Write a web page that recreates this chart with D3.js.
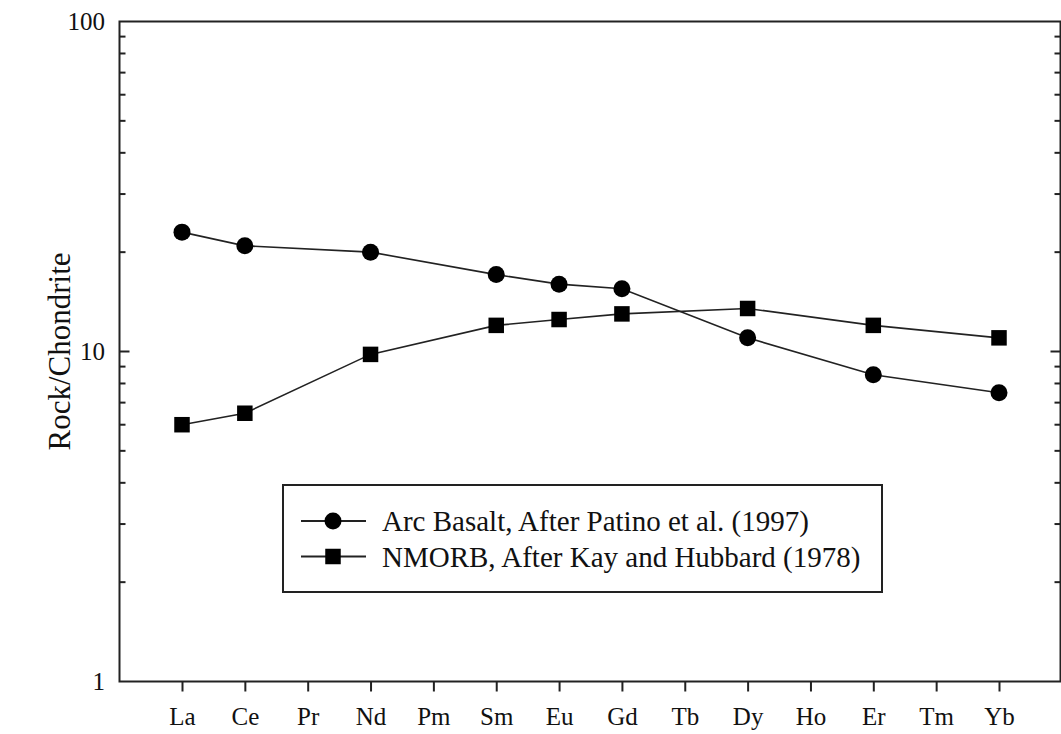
<!doctype html>
<html lang="en">
  <head>
    <meta charset="UTF-8" />
    <title>REE pattern</title>
    <script src="https://cdn.jsdelivr.net/npm/d3@7"></script>
    <style>
      html, body { margin: 0; padding: 0; background: #fff; }
      svg { display: block; font-family: "Liberation Serif", "Times New Roman", serif; }
    </style>
  </head>
  <body>
    <div id="chart"></div>
    <script>
      // element names on the x axis
      const elements = ["La", "Ce", "Pr", "Nd", "Pm", "Sm", "Eu", "Gd", "Tb", "Dy", "Ho", "Er", "Tm", "Yb"];

      // chondrite-normalised values
      const arcElements = ["La", "Ce", "Nd", "Sm", "Eu", "Gd", "Dy", "Er", "Yb"];
      const arcValues = [23.0, 20.9, 20.0, 17.1, 16.0, 15.5, 11.0, 8.5, 7.5];

      const morbElements = ["La", "Ce", "Nd", "Sm", "Eu", "Gd", "Dy", "Er", "Yb"];
      const morbValues = [6.0, 6.5, 9.8, 12.0, 12.5, 13.0, 13.5, 12.0, 11.0];

      const yTickLabels = [1, 10, 100];
      const legendLabels = ["Arc Basalt, After Patino et al. (1997)", "NMORB, After Kay and Hubbard (1978)"];

      const width = 1061;
      const height = 734;
      const marginLeft = 119.5;
      const marginRight = 1060.5;
      const marginTop = 21.5;
      const marginBottom = 681.5;

      const svg = d3.select("#chart").append("svg")
        .attr("width", width)
        .attr("height", height);

      // x scale: one slot per element
      const x = d3.scalePoint()
        .domain(elements)
        .range([182, 999]);

      // y scale: log, 1 .. 100
      const y = d3.scaleLog()
        .domain([1, 100])
        .range([marginBottom, marginTop]);

      // frame
      svg.append("rect")
        .attr("x", marginLeft)
        .attr("y", marginTop)
        .attr("width", marginRight - marginLeft)
        .attr("height", marginBottom - marginTop)
        .attr("fill", "none")
        .attr("stroke", "#222")
        .attr("stroke-width", 2);

      // minor + major ticks (inside, both sides)
      const allTicks = y.ticks();
      const tickG = svg.append("g").attr("stroke", "#222").attr("stroke-width", 2);
      allTicks.forEach(t => {
        const major = yTickLabels.includes(t);
        const len = major ? 10 : 6;
        if (t === 1 || t === 100) return;
        tickG.append("line")
          .attr("x1", marginLeft).attr("x2", marginLeft + len)
          .attr("y1", y(t)).attr("y2", y(t));
        tickG.append("line")
          .attr("x1", marginRight).attr("x2", marginRight - len)
          .attr("y1", y(t)).attr("y2", y(t));
      });

      // y tick labels
      svg.append("g")
        .selectAll("text")
        .data(yTickLabels)
        .join("text")
        .attr("x", 105)
        .attr("y", d => y(d))
        .attr("dy", "0.35em")
        .attr("text-anchor", "end")
        .attr("font-size", 25)
        .attr("fill", "#111")
        .text(d => d);

      // x axis ticks (outside) + labels
      const xAxis = d3.axisBottom(x).tickSize(10).tickPadding(16);
      const xg = svg.append("g")
        .attr("transform", `translate(0,${marginBottom})`)
        .call(xAxis);
      xg.select(".domain").remove();
      xg.selectAll(".tick line").attr("stroke", "#222").attr("stroke-width", 2);
      xg.selectAll(".tick text")
        .attr("font-size", 25)
        .attr("font-family", "Liberation Serif, serif")
        .attr("fill", "#111");

      // y label
      svg.append("text")
        .attr("transform", `translate(70,${(marginTop + marginBottom) / 2}) rotate(-90)`)
        .attr("text-anchor", "middle")
        .attr("font-size", 31)
        .attr("fill", "#111")
        .text("Rock/Chondrite");

      const line = d3.line()
        .x(d => x(d[0]))
        .y(d => y(d[1]));

      const arcData = arcElements.map((e, i) => [e, arcValues[i]]);
      const morbData = morbElements.map((e, i) => [e, morbValues[i]]);

      svg.append("path")
        .datum(arcData)
        .attr("d", line)
        .attr("fill", "none")
        .attr("stroke", "#222")
        .attr("stroke-width", 1.6);

      svg.append("path")
        .datum(morbData)
        .attr("d", line)
        .attr("fill", "none")
        .attr("stroke", "#222")
        .attr("stroke-width", 1.6);

      svg.append("g")
        .selectAll("circle")
        .data(arcData)
        .join("circle")
        .attr("cx", d => x(d[0]))
        .attr("cy", d => y(d[1]))
        .attr("r", 8.5)
        .attr("fill", "#000");

      const sq = 15.5;
      svg.append("g")
        .selectAll("rect")
        .data(morbData)
        .join("rect")
        .attr("x", d => x(d[0]) - sq / 2)
        .attr("y", d => y(d[1]) - sq / 2)
        .attr("width", sq)
        .attr("height", sq)
        .attr("fill", "#000");

      // legend
      const legend = svg.append("g").attr("id", "legend");
      legend.append("rect")
        .attr("x", 283)
        .attr("y", 485)
        .attr("width", 599)
        .attr("height", 107)
        .attr("fill", "#fff")
        .attr("stroke", "#222")
        .attr("stroke-width", 2);

      legendLabels.forEach((label, i) => {
        const ly = 521 + i * 35.5;
        legend.append("line")
          .attr("x1", 301).attr("x2", 366)
          .attr("y1", ly).attr("y2", ly)
          .attr("stroke", "#222").attr("stroke-width", 1.8);
        if (i === 0) {
          legend.append("circle").attr("cx", 333).attr("cy", ly).attr("r", 8.5).attr("fill", "#000");
        } else {
          legend.append("rect").attr("x", 333 - sq / 2).attr("y", ly - sq / 2)
            .attr("width", sq).attr("height", sq).attr("fill", "#000");
        }
        legend.append("text")
          .attr("x", 382)
          .attr("y", ly)
          .attr("dy", "0.35em")
          .attr("font-size", 29)
          .attr("fill", "#111")
          .text(label);
      });
    </script>
  </body>
</html>
